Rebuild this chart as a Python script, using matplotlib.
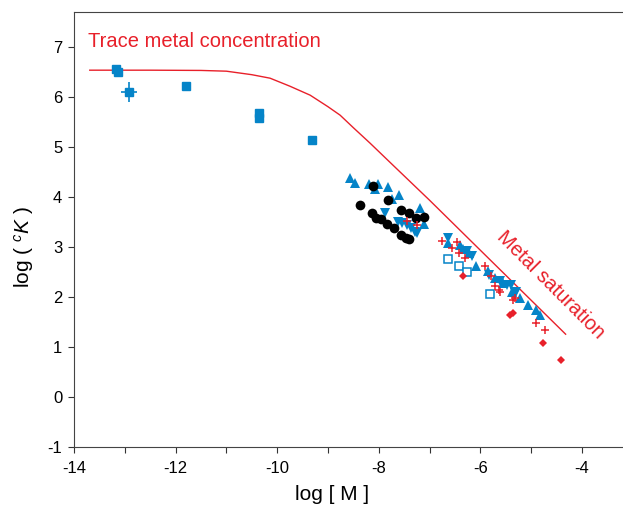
from matplotlib import pyplot as plt
from matplotlib.ticker import MultipleLocator

plt.rcParams['font.family'] = ['Liberation Sans', 'DejaVu Sans']
plt.rcParams['mathtext.fontset'] = 'custom'
plt.rcParams['mathtext.rm'] = 'Liberation Sans'
plt.rcParams['mathtext.it'] = 'Liberation Sans:italic'
plt.rcParams['axes.unicode_minus'] = False

BLUE = '#0584c8'
RED = '#e8202a'

# model curve
curve_x = [-13.69, -12.5, -11.5, -11.0, -10.5, -10.14, -9.75, -9.35, -9.0,
           -8.76, -8.5, -8.17, -7.75, -7.0, -6.6, -4.32]
curve_y = [6.53, 6.53, 6.525, 6.51, 6.44, 6.37, 6.21, 6.03, 5.80,
           5.63, 5.38, 5.07, 4.66, 3.93, 3.53, 1.25]

sq_x = [-13.18, -13.14, -11.80, -10.36, -10.35, -9.31]
sq_y = [6.56, 6.50, 6.22, 5.67, 5.58, 5.14]

err_x = [-12.91]
err_y = [6.10]
err_dx = [0.16]
err_dy = [0.2]

up_x = [-8.56, -8.47, -8.19, -8.01, -8.07, -7.82, -7.73, -7.60, -7.19, -7.11,
        -6.63, -6.40, -6.34, -6.23, -6.09, -5.84, -5.71, -5.55, -5.37, -5.21,
        -5.06, -4.90, -4.83]
up_y = [4.37, 4.27, 4.25, 4.25, 4.15, 4.19, 3.96, 4.04, 3.78, 3.46,
        3.07, 3.03, 2.95, 2.88, 2.62, 2.51, 2.37, 2.27, 2.10, 1.98,
        1.83, 1.73, 1.63]

down_x = [-7.87, -7.62, -7.54, -7.45, -7.37, -7.28, -7.24,
          -6.63, -6.27, -6.17, -5.82, -5.61, -5.48, -5.39, -5.32, -5.29]
down_y = [3.67, 3.50, 3.47, 3.44, 3.37, 3.30, 3.27,
          3.17, 2.91, 2.82, 2.43, 2.32, 2.24, 2.24, 2.07, 2.10]

dot_x = [-8.11, -8.36, -7.82, -8.13, -8.06, -7.95, -7.83, -7.70, -7.57, -7.41,
         -7.26, -7.11, -7.57, -7.46, -7.41]
dot_y = [4.21, 3.83, 3.93, 3.67, 3.57, 3.55, 3.45, 3.37, 3.73, 3.67,
         3.57, 3.59, 3.23, 3.17, 3.16]

open_x = [-6.63, -6.42, -6.26, -5.80]
open_y = [2.75, 2.61, 2.50, 2.05]

plus_x = [-7.44, -7.24, -6.75, -6.55, -6.46, -6.42, -6.30, -5.91, -5.78, -5.71,
          -5.63, -5.61, -5.32, -5.35, -4.90, -4.73]
plus_y = [3.52, 3.44, 3.12, 2.98, 3.10, 2.88, 2.78, 2.61, 2.42, 2.22,
          2.13, 2.10, 1.97, 1.94, 1.47, 1.33]

dia_x = [-6.34, -5.42, -5.35, -4.77, -4.41]
dia_y = [2.42, 1.63, 1.68, 1.08, 0.74]

fig = plt.figure(figsize=(6.23, 5.08), dpi=100)
ax = fig.add_axes([0.1188, 0.1207, 0.8812, 0.8563])

ax.plot(curve_x, curve_y, color=RED, lw=1.0, zorder=1)

ax.plot(sq_x, sq_y, 's', color=BLUE, ms=6, mec=BLUE, zorder=3)
ax.errorbar(err_x, err_y, xerr=err_dx, yerr=err_dy, fmt='s', color=BLUE,
            ms=6, elinewidth=1.2, capsize=0, zorder=3)
ax.plot(up_x, up_y, '^', color=BLUE, ms=7, mew=0, zorder=3)
ax.plot(down_x, down_y, 'v', color=BLUE, ms=7, mew=0, zorder=3)
ax.plot(dot_x, dot_y, 'o', color='black', ms=7, mew=0, zorder=4)
ax.plot(open_x, open_y, 's', mfc='white', mec=BLUE, ms=6, mew=1.1, zorder=3)
ax.plot(plus_x, plus_y, '+', color=RED, ms=6, mew=1.1, zorder=5)
ax.plot(dia_x, dia_y, 'D', color=RED, ms=4.5, mew=0, zorder=5)

ax.text(-13.72, 7.10, 'Trace metal concentration', color=RED, fontsize=14.5,
        ha='left', va='center')
ax.text(-4.61, 2.23, 'Metal saturation', color=RED, fontsize=14.5,
        ha='center', va='center', rotation=-45, rotation_mode='anchor')

ax.set_xlim(-14, -3.19)
ax.set_ylim(-1, 7.7)
ax.xaxis.set_major_locator(MultipleLocator(2))
ax.xaxis.set_minor_locator(MultipleLocator(1))
ax.yaxis.set_major_locator(MultipleLocator(1))
ax.tick_params(which='both', direction='out', length=4.5, width=0.8,
               colors='#333333', labelsize=12, labelcolor='black')
ax.tick_params(axis='x', which='both', pad=5.5)
ax.tick_params(axis='y', pad=4)
ax.spines['right'].set_visible(False)
for s in ['left', 'bottom', 'top']:
    ax.spines[s].set_color('#444444')
    ax.spines[s].set_linewidth(0.8)

ax.set_xlabel('log [ M ]', fontsize=15)
ax.set_ylabel(r'log ( $^{c}K$ )', fontsize=15)
ax.xaxis.set_label_coords(0.47, -0.087)
ax.yaxis.set_label_coords(-0.069, 0.458)

fig.savefig('out.png', dpi=100)
